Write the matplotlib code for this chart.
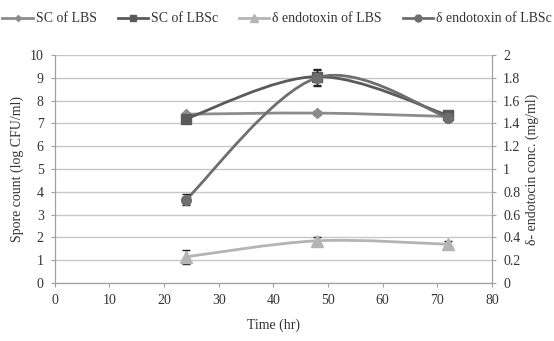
import numpy as np
import matplotlib
matplotlib.use('Agg')
import matplotlib.pyplot as plt
from matplotlib.path import Path
from matplotlib.patches import PathPatch
from matplotlib.lines import Line2D

plt.rcParams['font.family'] = ['Liberation Serif', 'DejaVu Serif']

time = [24, 48, 72]
scLBS = [7.4, 7.45, 7.3]
scLBSErr = [0.05, 0.1, 0.05]
scLBSc = [7.2, 9.05, 7.35]
scLBScErr = [0.15, 0.35, 0.1]
endoLBS = [0.23, 0.37, 0.34]
endoLBSErr = [0.06, 0.03, 0.03]
endoLBSc = [0.73, 1.8, 1.45]
endoLBScErr = [0.05, 0.07, 0.02]

def smoothPath(x, y):
	x = np.asarray(x, float)
	y = np.asarray(y, float)
	pts = np.column_stack([x, y])
	n = len(pts)
	verts = [pts[0]]
	codes = [Path.MOVETO]
	for i in range(n - 1):
		p0 = pts[i - 1] if i > 0 else pts[i]
		p1 = pts[i]
		p2 = pts[i + 1]
		p3 = pts[i + 2] if i + 2 < n else pts[i + 1]
		c1 = p1 + (p2 - p0) / 6.0
		c2 = p2 - (p3 - p1) / 6.0
		verts += [c1, c2, p2]
		codes += [Path.CURVE4] * 3
	return Path(verts, codes)

fig = plt.figure(figsize=(5.54, 3.41), dpi=100)
ax = fig.add_axes([0.099, 0.170, 0.789, 0.669])
ax2 = ax.twinx()

styles = [
	(ax, scLBS, scLBSErr, '#8c8c8c', 'D', 5, 'SC of LBS'),
	(ax, scLBSc, scLBScErr, '#5a5a5a', 's', 7, 'SC of LBSc'),
	(ax2, endoLBS, endoLBSErr, '#b4b4b4', '^', 8, 'δ endotoxin of LBS'),
	(ax2, endoLBSc, endoLBScErr, '#6e6e6e', 'o', 7, 'δ endotoxin of LBSc'),
]

handles = []
for a, vals, err, col, mk, ms, lab in styles:
	a.add_patch(PathPatch(smoothPath(time, vals), facecolor='none', edgecolor=col, lw=2, zorder=3))
	a.errorbar(time, vals, yerr=err, fmt=mk, color=col, ms=ms, ecolor='#222222', elinewidth=1, capsize=3, zorder=4)
	handles.append(Line2D([], [], color=col, marker=mk, ms=ms - 2, lw=2, label=lab))

ax.set_xlim(0, 80)
ax.set_ylim(0, 10)
ax2.set_ylim(0, 2)
ax.set_xticks(range(0, 81, 10))
ax.set_yticks(range(0, 11))
ax2.set_yticks(np.arange(0, 2.01, 0.2))
ax2.set_yticklabels(['0', '0.2', '0.4', '0.6', '0.8', '1', '1.2', '1.4', '1.6', '1.8', '2'])
ax.yaxis.grid(True, color='#c8c8c8', lw=1)
ax.set_axisbelow(True)

for a in (ax, ax2):
	a.spines['top'].set_visible(False)
	for s in ('left', 'right', 'bottom'):
		a.spines[s].set_color('#a0a0a0')
	a.tick_params(colors='#a0a0a0', labelcolor='#333333', labelsize=10, length=3, pad=5)

ax.set_xlabel('Time (hr)', fontsize=10, color='#333333', labelpad=8)
ax.set_ylabel('Spore count (log CFU/ml)', fontsize=10, color='#333333')
ax2.set_ylabel('δ- endotocin conc. (mg/ml)', fontsize=10, color='#333333')

fig.legend(handles=handles, loc='upper center', bbox_to_anchor=(0.5, 1.0), ncol=4, frameon=False,
	fontsize=10, handlelength=2.2, columnspacing=1.5, handletextpad=0.2, labelcolor='#333333')

fig.savefig('out.png', dpi=100)
